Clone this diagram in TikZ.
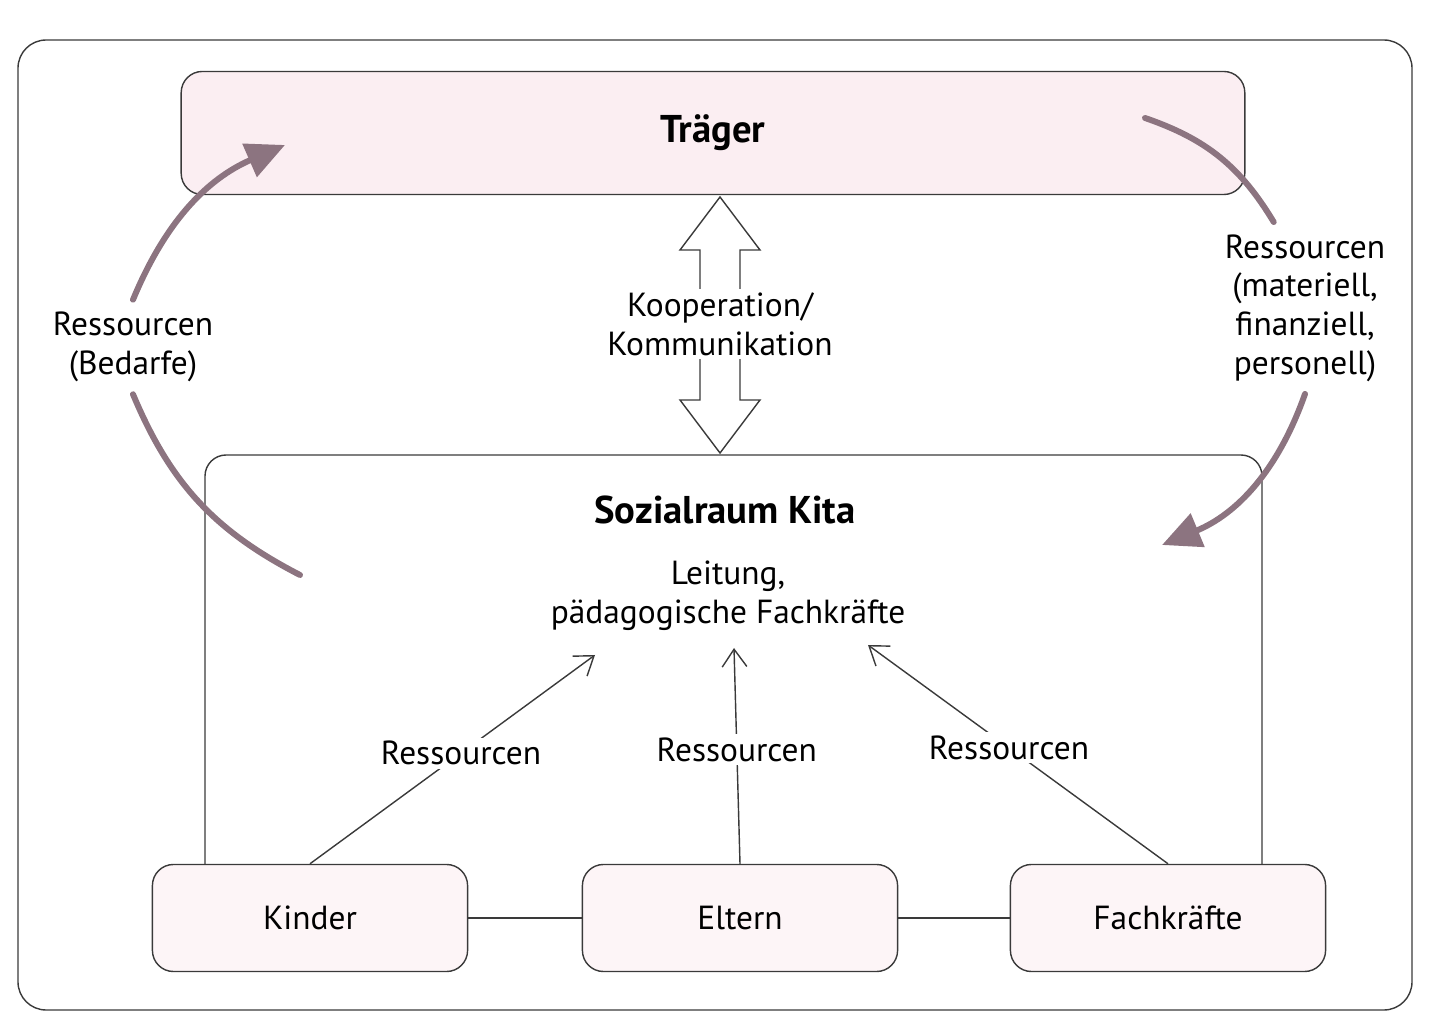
\documentclass[tikz,border=0pt]{standalone}
\usepackage{fontspec}
\setmainfont{PT Sans}
\usetikzlibrary{arrows.meta}
\definecolor{traeger}{HTML}{FBEEF2}
\definecolor{kasten}{HTML}{FDF5F7}
\definecolor{bogen}{HTML}{8C7480}
\definecolor{linie}{HTML}{3A3A3A}

\begin{document}
\begin{tikzpicture}[x=0.01cm, y=-0.01cm]
    \tikzstyle{box} = [draw=linie, rounded corners=6pt, fill=kasten, minimum width=3.15cm, minimum height=1.07cm, font=\fontsize{9.5}{11}\selectfont]
    \tikzstyle{txt} = [align=center, font=\fontsize{9.5}{11}\selectfont]
    \tikzstyle{head} = [font=\bfseries\fontsize{11}{13}\selectfont]
    \tikzstyle{res} = [draw=linie, thin, -{Straight Barb[length=5pt, width=7pt]}]
    \tikzstyle{flow} = [draw=bogen, line width=1.7pt, line cap=round]
    \useasboundingbox (0,0) rectangle (1436,1034);
    \draw[linie, thin, rounded corners=8pt] (18,40) rectangle (1412,1010);
    \node[head, draw=linie, fill=traeger, rounded corners=6pt, minimum width=10.63cm, minimum height=1.23cm] (traeger) at (713,133) {Träger};
    \draw[linie, thin, rounded corners=6pt] (205,865) -- (205,455) -- (1262,455) -- (1262,865);
    \node[head] (kita) at (725,510) {Sozialraum Kita};
    \node[txt] (leitung) at (728,596) {Leitung,\\pädagogische Fachkräfte};
    % Doppelpfeil
    \draw[linie, thin, fill=white] (720,197) -- (760,250) -- (740,250) -- (740,400) -- (760,400) -- (720,453)
        -- (680,400) -- (700,400) -- (700,250) -- (680,250) -- cycle;
    \node[txt, fill=white, inner sep=1pt] (koop) at (720,324) {Kooperation/\\Kommunikation};
    \node[box] (kinder) at (310,918) {Kinder};
    \node[box] (eltern) at (740,918) {Eltern};
    \node[box] (fach) at (1168,918) {Fachkräfte};
    \draw[linie, thin] (kinder) -- (eltern);
    \draw[linie, thin] (eltern) -- (fach);
    \coordinate (tipL) at (595,655);
    \coordinate (tipM) at (734,648);
    \coordinate (tipR) at (868,645);
    \foreach \from/\to in {kinder/tipL, eltern/tipM, fach/tipR} {
        \draw[res] (\from.north) -- node[txt, pos=0.53, fill=white, inner sep=1pt] {Ressourcen} (\to);
    }
    % Ressourcenkreislauf
    \node[txt] (bedarf) at (133,347) {Ressourcen\\(Bedarfe)};
    \node[txt] (mittel) at (1305,308) {Ressourcen\\(materiell,\\finanziell,\\personell)};
    \coordinate (lstart) at (300,575);
    \coordinate (ltip) at (285,145);
    \coordinate (rstart) at (1145,118);
    \coordinate (rtip) at (1162,545);
    \draw[flow] (lstart) to[bend left=20] (bedarf.south);
    \draw[flow, -{Triangle[length=11pt, width=10pt]}] (bedarf.north) to[bend left=22] (ltip);
    \draw[flow] (rstart) to[bend left=20] (mittel.110);
    \draw[flow, -{Triangle[length=11pt, width=10pt]}] (mittel.south) to[bend left=24] (rtip);
\end{tikzpicture}
\end{document}
